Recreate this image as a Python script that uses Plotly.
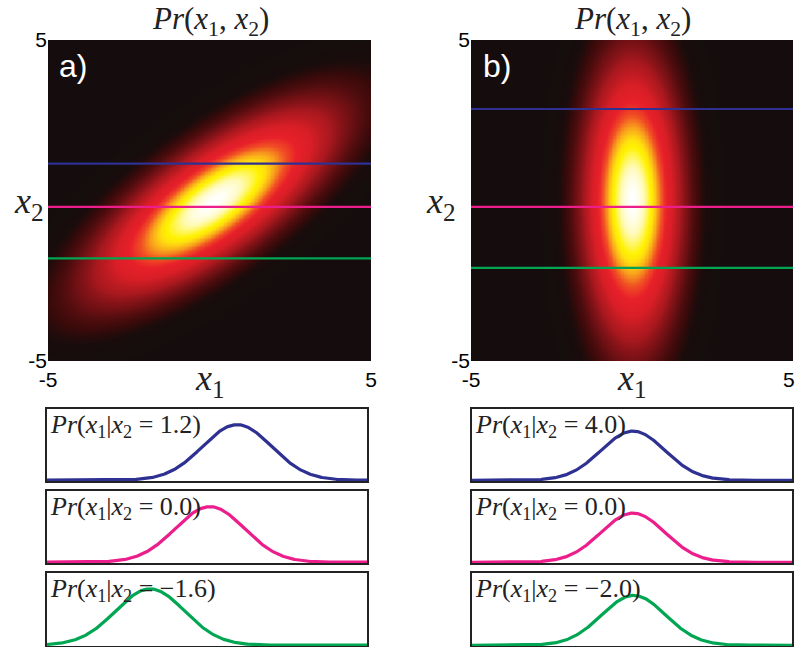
import numpy as np
import plotly.graph_objects as go

# ---------------- data ----------------
# 2-D Gaussian parameters for the two joint densities: mean x1, mean x2, sd x1, sd x2, correlation
joint_a = dict(mx=0.1, my=-0.05, sx=1.9, sy=1.5, rho=0.75)
joint_b = dict(mx=0.0, my=0.0, sx=0.78, sy=2.27, rho=0.0)

# horizontal slice positions drawn on the heatmaps
lines_a = [1.15, -0.2, -1.8]
lines_b = [2.85, -0.2, -2.1]

# conditional-curve labels
labels_a = ["1.2", "0.0", "\u22121.6"]
labels_b = ["4.0", "0.0", "\u22122.0"]

# conditional curves: peak location and spread
cond_mean_a = [0.94, 0.09, -1.78]
cond_sd_a = [1.08, 1.08, 1.08]
cond_mean_b = [0.03, 0.03, 0.05]
cond_sd_b = [1.0, 1.0, 1.0]

line_colors = ["#2e3192", "#ec1e8c", "#00a651"]

# axis tick labels (the right panel's "5" sits just inside the page edge)
tick_text = ["-5", "5"]
tick_vals_a = [-5, 5]
tick_vals_b_x = [-5, 4.87]

# ---------------- helpers ----------------
W, H = 795, 647


def px_x(a, b):
    return [a / W, b / W]


def px_y(top, bottom):
    return [1 - bottom / H, 1 - top / H]


grid = np.linspace(-5, 5, 241)
X1, X2 = np.meshgrid(grid, grid)


def density(p):
    dx = (X1 - p["mx"]) / p["sx"]
    dy = (X2 - p["my"]) / p["sy"]
    r = p["rho"]
    q = (dx ** 2 - 2 * r * dx * dy + dy ** 2) / (1 - r ** 2)
    z = np.exp(-0.5 * q)
    return z / z.max()


hot = [
    [0.0, "#150d0d"],
    [0.012, "#190c0c"],
    [0.03, "#3a0a0a"],
    [0.08, "#6e1014"],
    [0.16, "#a8181e"],
    [0.28, "#d81e26"],
    [0.40, "#e8202a"],
    [0.50, "#f04e24"],
    [0.60, "#f8a01c"],
    [0.70, "#ffe00e"],
    [0.76, "#fff200"],
    [0.90, "#fffab8"],
    [1.0, "#ffffff"],
]

fig = go.Figure()

serif = "Liberation Serif"
sans = "Liberation Sans"

# heatmaps
for i, (p, lines) in enumerate([(joint_a, lines_a), (joint_b, lines_b)]):
    xa = "x" if i == 0 else "x2"
    ya = "y" if i == 0 else "y2"
    fig.add_trace(go.Heatmap(x=grid, y=grid, z=density(p), colorscale=hot,
                             zmin=0, zmax=1, showscale=False, zsmooth="best",
                             xaxis=xa, yaxis=ya, hoverinfo="skip"))
    for yv, c in zip(lines, line_colors):
        fig.add_trace(go.Scatter(x=[-5, 5], y=[yv, yv], mode="lines",
                                 line=dict(color=c, width=2.2),
                                 xaxis=xa, yaxis=ya, showlegend=False, hoverinfo="skip"))

# conditional curves
xs = np.linspace(-5, 5, 401)
for side, (means, sds) in enumerate([(cond_mean_a, cond_sd_a), (cond_mean_b, cond_sd_b)]):
    for k in range(3):
        idx = 3 + side * 3 + k
        yv = np.exp(-0.5 * ((xs - means[k]) / sds[k]) ** 2)
        fig.add_trace(go.Scatter(x=xs, y=yv, mode="lines",
                                 line=dict(color=line_colors[k], width=3.2),
                                 xaxis=f"x{idx}", yaxis=f"y{idx}",
                                 showlegend=False, hoverinfo="skip"))

layout = dict(
    width=W, height=H, margin=dict(l=0, r=0, t=0, b=0, pad=0, autoexpand=False),
    paper_bgcolor="white", plot_bgcolor="white", showlegend=False,
)

heat_ax = dict(range=[-5, 5], ticktext=tick_text, ticks="",
               showgrid=False, zeroline=False, showline=False, automargin=False,
               ticklabeloverflow="allow",
               tickfont=dict(family=sans, size=21, color="black"))
layout["xaxis"] = dict(heat_ax, tickvals=tick_vals_a, domain=px_x(48, 371), anchor="y", ticklabelstandoff=4)
layout["yaxis"] = dict(heat_ax, tickvals=tick_vals_a, domain=px_y(40, 361), anchor="x")
layout["xaxis2"] = dict(heat_ax, tickvals=tick_vals_b_x, domain=px_x(471, 793), anchor="y2", ticklabelstandoff=4)
layout["yaxis2"] = dict(heat_ax, tickvals=tick_vals_a, domain=px_y(40, 361), anchor="x2")

rows = [(409, 481), (491, 563), (573, 646)]
cols = [(47, 367), (472, 792)]
yranges = [[-0.015, 1 / 0.78], [-0.015, 1 / 0.69]]
panel_ax = dict(showticklabels=False, ticks="", showgrid=False, zeroline=False, automargin=False,
                showline=True, linecolor="#222", linewidth=1.6, mirror=True)
for side in range(2):
    for k in range(3):
        idx = 3 + side * 3 + k
        layout[f"xaxis{idx}"] = dict(panel_ax, range=[-5, 5], domain=px_x(*cols[side]), anchor=f"y{idx}")
        layout[f"yaxis{idx}"] = dict(panel_ax, range=yranges[side], domain=px_y(*rows[k]), anchor=f"x{idx}")

fig.update_layout(**layout)

ann = []
title_txt = "<i>Pr</i>(<i>x</i><sub>1</sub>, <i>x</i><sub>2</sub>)"
for cx in [210, 632]:
    ann.append(dict(x=cx / W, y=1 - 21 / H, xref="paper", yref="paper", text=title_txt,
                    showarrow=False, font=dict(family=serif, size=31, color="#222"),
                    xanchor="center", yanchor="middle"))
for cx in [210, 632]:
    ann.append(dict(x=cx / W, y=1 - 380 / H, xref="paper", yref="paper",
                    text="<i>x</i><sub>1</sub>", showarrow=False,
                    font=dict(family=serif, size=36, color="#222"),
                    xanchor="center", yanchor="middle"))
for cx in [29, 441]:
    ann.append(dict(x=cx / W, y=1 - 203 / H, xref="paper", yref="paper",
                    text="<i>x</i><sub>2</sub>", showarrow=False,
                    font=dict(family=serif, size=36, color="#222"),
                    xanchor="center", yanchor="middle"))
for lx, t in [(57, "a)"), (481, "b)")]:
    ann.append(dict(x=lx / W, y=1 - 66 / H, xref="paper", yref="paper", text=t,
                    showarrow=False, font=dict(family=sans, size=32, color="white"),
                    xanchor="left", yanchor="middle"))
for side, labels in enumerate([labels_a, labels_b]):
    lx = cols[side][0] + 1
    for k in range(3):
        txt = f"<i>Pr</i>(<i>x</i><sub>1</sub>|<i>x</i><sub>2</sub> = {labels[k]})"
        ann.append(dict(x=lx / W, y=1 - (rows[k][0] + 17) / H, xref="paper", yref="paper",
                        text=txt, showarrow=False,
                        font=dict(family=serif, size=26, color="#222"),
                        xanchor="left", yanchor="middle"))
fig.update_layout(annotations=ann)

fig.write_html("out.html")
